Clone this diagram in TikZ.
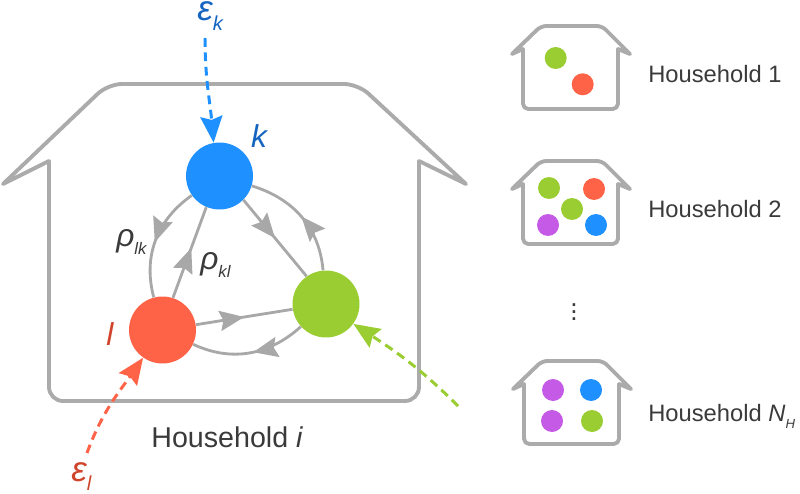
\documentclass[tikz,border=0pt]{standalone}
\usepackage{amsmath}
\usepackage{fontspec}
\usepackage{xcolor}
\usetikzlibrary{arrows.meta, decorations.markings}
\setmainfont{Liberation Sans}

\definecolor{wallgray}{HTML}{ABABAB}
\definecolor{linkgray}{HTML}{A8A8A8}
\definecolor{textgray}{HTML}{3A3A3A}
\definecolor{kblue}{HTML}{1E90FF}
\definecolor{lred}{HTML}{FF6347}
\definecolor{mgreen}{HTML}{9ACD32}
\definecolor{mpurple}{HTML}{C45AE6}
\definecolor{klabel}{HTML}{1565C0}
\definecolor{llabel}{HTML}{D0442C}

% subscript: size, drop, text
\newcommand{\lowsub}[3]{\raisebox{-#2pt}{\fontsize{#1}{#1}\selectfont #3}}

\tikzset{
    member/.style={circle, fill=#1, minimum size=1.34cm, inner sep=0pt},
    dot/.style={circle, fill=#1, minimum size=0.44cm, inner sep=0pt},
    wall/.style={draw=wallgray, line width=2.2pt, line join=round},
    midtip/.style={decoration={markings, mark=at position #1 with {\arrow{Stealth[length=14pt, width=11.5pt, inset=2pt]}}}, postaction={decorate}},
    link/.style={draw=linkgray, line width=1.6pt},
    infect/.style={dashed, dash pattern=on 5pt off 3.2pt, line width=1.7pt, -{Stealth[length=15pt, width=12.5pt, inset=2pt]}},
    caption/.style={text=textgray, anchor=base west, inner sep=0pt},
}

\begin{document}
\begin{tikzpicture}[x=0.02cm, y=-0.02cm]
    \useasboundingbox (0, 0) rectangle (800, 493);

    % large house
    \draw[wall] (49, 161) -- (3, 184)
        [rounded corners=8pt] -- (108, 84) -- (358, 84) [rounded corners=0pt] -- (466, 184)
        -- (419, 161) [rounded corners=8pt] -- (419, 401) -- (49, 401) [rounded corners=0pt] -- cycle;

    % three members
    \node[member=kblue] (k) at (219.5, 176) {};
    \node[member=lred] (l) at (162.5, 330) {};
    \node[member=mgreen] (m) at (326, 304) {};

    \draw[link, midtip=0.52] (k.215) to[out=215, in=105] (l.105);
    \draw[link, midtip=0.55] (l.72) -- (k.247);
    \draw[link, midtip=0.5] (k.-45) -- (m.125);
    \draw[link, midtip=0.5] (m.95) to[out=95, in=-17] (k.-17);
    \draw[link, midtip=0.5] (l.9) -- (m.189);
    \draw[link, midtip=0.47] (m.222) to[out=222, in=-25] (l.-25);

    % outside infection
    \coordinate (ek) at (205, 38);
    \coordinate (el) at (87, 453);
    \coordinate (em) at (458, 406);
    \draw[infect, kblue] (ek) to[out=-90, in=95] (k.100);
    \draw[infect, lred] (el) to[out=70, in=235] (l.235);
    \draw[infect, mgreen] (em) to[out=135, in=-33] (m.-36);

    % labels of the large house
    \node[text=klabel, inner sep=0pt, font=\fontsize{18}{20}\selectfont\itshape] (klab) at (259, 136) {k};
    \node[text=llabel, inner sep=0pt, font=\fontsize{18}{20}\selectfont\itshape] (llab) at (110, 334) {l};
    \node[text=klabel, anchor=base west, inner sep=0pt, font=\fontsize{20}{22}\selectfont\itshape] (eklab) at (197, 21) {ε\lowsub{11.5}{5.5}{k}};
    \node[text=llabel, anchor=base west, inner sep=0pt, font=\fontsize{20}{22}\selectfont\itshape] (ellab) at (71, 481) {ε\lowsub{11.5}{5.5}{l}};
    \node[caption, font=\fontsize{18}{20}\selectfont\itshape] (rholk) at (116, 246) {ρ\lowsub{9.5}{5}{lk}};
    \node[caption, font=\fontsize{18}{20}\selectfont\itshape] (rhokl) at (200, 269) {ρ\lowsub{9.5}{5}{kl}};
    \node[caption, font=\fontsize{16.3}{18}\selectfont] (cap) at (151, 447) {Household \textit{i}};

    % small houses on the right
    \foreach \dx/\dy in {0/0, 0/135, 1/335} {
        \draw[wall, shift={(\dx, \dy)}] (523, 49) -- (512, 54)
            [rounded corners=3pt] -- (541, 26) -- (602, 26) [rounded corners=0pt] -- (630, 54)
            -- (618, 49) [rounded corners=3pt] -- (618, 109) -- (523, 109) [rounded corners=0pt] -- cycle;
    }

    \node[dot=mgreen] (a1) at (555.7, 58) {};
    \node[dot=lred] (a2) at (582.7, 84.3) {};

    \node[dot=mgreen] (b1) at (549, 188) {};
    \node[dot=lred] (b2) at (594, 189) {};
    \node[dot=mgreen] (b3) at (572, 209) {};
    \node[dot=mpurple] (b4) at (548, 225) {};
    \node[dot=kblue] (b5) at (596, 225) {};

    \node[dot=mpurple] (c1) at (553, 390) {};
    \node[dot=kblue] (c2) at (591, 390) {};
    \node[dot=mpurple] (c3) at (552, 421) {};
    \node[dot=mgreen] (c4) at (592, 421) {};

    \node[caption, font=\fontsize{13.5}{16}\selectfont] (cap1) at (648, 82.5) {Household 1};
    \node[caption, font=\fontsize{13.5}{16}\selectfont] (cap2) at (648, 217) {Household 2};
    \node[caption, font=\fontsize{13.5}{16}\selectfont] (cap3) at (648, 421) {Household \textit{N}\lowsub{7.5}{4.5}{\textit{H}}};
    \node[text=textgray, inner sep=0pt, font=\fontsize{15}{17}\selectfont] (more) at (574, 307) {$\vdots$};
\end{tikzpicture}
\end{document}
